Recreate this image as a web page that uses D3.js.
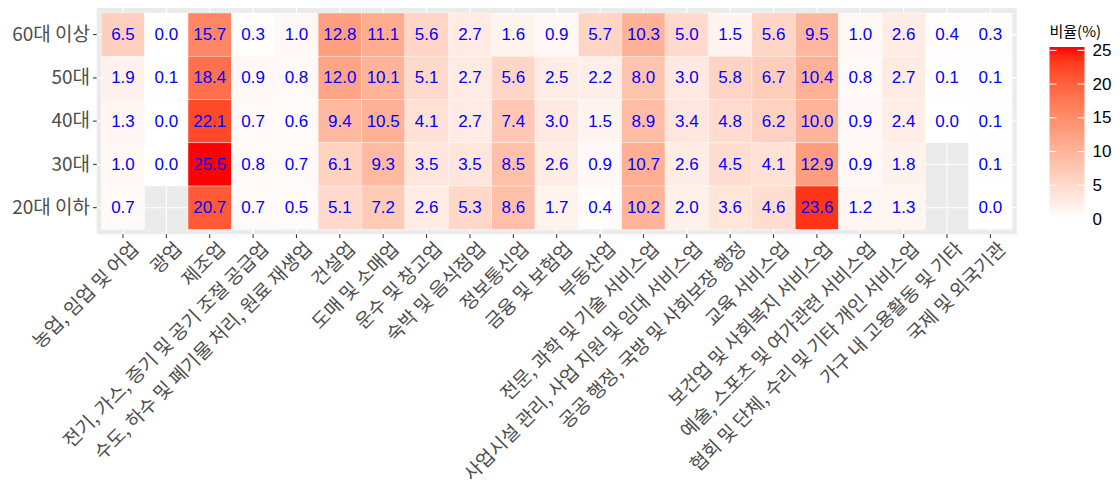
<!DOCTYPE html>
<html>
<head>
<meta charset="utf-8">
<script src="https://cdn.jsdelivr.net/npm/d3@7"></script>
<style>
  html, body { margin: 0; padding: 0; background: #fff; }
  svg { display: block; }
</style>
</head>
<body>
<svg id="chart" width="1120" height="486"></svg>
<script>
// Age groups (rows, top to bottom) and industries (columns, left to right)
const ageGroups = ["60대 이상", "50대", "40대", "30대", "20대 이하"];
const industries = [
  "농업, 임업 및 어업",
  "광업",
  "제조업",
  "전기, 가스, 증기 및 공기 조절 공급업",
  "수도, 하수 및 폐기물 처리, 원료 재생업",
  "건설업",
  "도매 및 소매업",
  "운수 및 창고업",
  "숙박 및 음식점업",
  "정보통신업",
  "금융 및 보험업",
  "부동산업",
  "전문, 과학 및 기술 서비스업",
  "사업시설 관리, 사업 지원 및 임대 서비스업",
  "공공 행정, 국방 및 사회보장 행정",
  "교육 서비스업",
  "보건업 및 사회복지 서비스업",
  "예술, 스포츠 및 여가관련 서비스업",
  "협회 및 단체, 수리 및 기타 개인 서비스업",
  "가구 내 고용활동 및 기타",
  "국제 및 외국기관"
];

// Share of employment (%) by industry, one array per age group; null = no data
const share60plus = [6.5, 0.0, 15.7, 0.3, 1.0, 12.8, 11.1, 5.6, 2.7, 1.6, 0.9, 5.7, 10.3, 5.0, 1.5, 5.6, 9.5, 1.0, 2.6, 0.4, 0.3];
const share50s    = [1.9, 0.1, 18.4, 0.9, 0.8, 12.0, 10.1, 5.1, 2.7, 5.6, 2.5, 2.2, 8.0, 3.0, 5.8, 6.7, 10.4, 0.8, 2.7, 0.1, 0.1];
const share40s    = [1.3, 0.0, 22.1, 0.7, 0.6, 9.4, 10.5, 4.1, 2.7, 7.4, 3.0, 1.5, 8.9, 3.4, 4.8, 6.2, 10.0, 0.9, 2.4, 0.0, 0.1];
const share30s    = [1.0, 0.0, 25.5, 0.8, 0.7, 6.1, 9.3, 3.5, 3.5, 8.5, 2.6, 0.9, 10.7, 2.6, 4.5, 4.1, 12.9, 0.9, 1.8, null, 0.1];
const share20down = [0.7, null, 20.7, 0.7, 0.5, 5.1, 7.2, 2.6, 5.3, 8.6, 1.7, 0.4, 10.2, 2.0, 3.6, 4.6, 23.6, 1.2, 1.3, null, 0.0];

const legendTitle = "비율(%)";
const legendTicks = [0, 5, 10, 15, 20, 25];

const seriesByAge = [share60plus, share50s, share40s, share30s, share20down];

// Long-format cells, skipping missing combinations
const cells = [];
ageGroups.forEach((age, i) => {
  seriesByAge[i].forEach((v, j) => {
    if (v !== null) cells.push({ age, industry: industries[j], value: v });
  });
});

const svg = d3.select("#chart");

const panel = { left: 96.7, right: 1016.7, top: 8, bottom: 234.3 };
const inset = { x: 4.6, y: 5 };

const x = d3.scaleBand()
  .domain(industries)
  .range([panel.left + inset.x, panel.right - inset.x])
  .padding(0);

const y = d3.scaleBand()
  .domain(ageGroups)
  .range([panel.top + inset.y, panel.bottom - inset.y])
  .padding(0);

const maxVal = d3.max(cells, d => d.value);
const color = d3.scaleLinear()
  .domain([0, maxVal])
  .range(["#ffffff", "#ff0000"])
  .interpolate(d3.interpolateLab);

const axisFont = "'Noto Sans CJK KR', 'Noto Sans', sans-serif";
const numFont = "'Liberation Sans', Arial, sans-serif";

// Panel background
svg.append("rect")
  .attr("x", panel.left).attr("y", panel.top)
  .attr("width", panel.right - panel.left)
  .attr("height", panel.bottom - panel.top)
  .attr("fill", "#ebebeb");

// Major grid lines at category centres
const grid = svg.append("g").attr("stroke", "#ffffff").attr("stroke-width", 1.07);
grid.selectAll("line.vx").data(industries).join("line")
  .attr("x1", d => x(d) + x.bandwidth() / 2).attr("x2", d => x(d) + x.bandwidth() / 2)
  .attr("y1", panel.top).attr("y2", panel.bottom);
grid.selectAll("line.hy").data(ageGroups).join("line")
  .attr("y1", d => y(d) + y.bandwidth() / 2).attr("y2", d => y(d) + y.bandwidth() / 2)
  .attr("x1", panel.left).attr("x2", panel.right);

// Tiles
svg.append("g").selectAll("rect").data(cells).join("rect")
  .attr("x", d => x(d.industry))
  .attr("y", d => y(d.age))
  .attr("width", x.bandwidth())
  .attr("height", y.bandwidth())
  .attr("fill", d => color(d.value))
  .attr("stroke", "#ffffff")
  .attr("stroke-opacity", 0.6)
  .attr("stroke-width", 0.6);

// Value labels
svg.append("g").selectAll("text").data(cells).join("text")
  .attr("x", d => x(d.industry) + x.bandwidth() / 2)
  .attr("y", d => y(d.age) + y.bandwidth() / 2)
  .attr("text-anchor", "middle")
  .attr("dominant-baseline", "central")
  .attr("font-family", numFont)
  .attr("font-size", 17)
  .attr("fill", "#0000ff")
  .text(d => d.value.toFixed(1));

// Y axis
const yAxis = svg.append("g")
  .attr("transform", `translate(${panel.left},0)`)
  .call(d3.axisLeft(y).tickSize(3.7).tickPadding(3));
yAxis.select(".domain").remove();
yAxis.selectAll(".tick line").attr("stroke", "#333333").attr("stroke-width", 1.07);
yAxis.selectAll(".tick text")
  .attr("fill", "#4d4d4d")
  .attr("font-family", axisFont)
  .attr("font-size", 19);

// X axis with rotated labels
const xAxis = svg.append("g")
  .attr("transform", `translate(0,${panel.bottom})`)
  .call(d3.axisBottom(x).tickSize(3.7).tickPadding(3));
xAxis.select(".domain").remove();
xAxis.selectAll(".tick line").attr("stroke", "#333333").attr("stroke-width", 1.07);
xAxis.selectAll(".tick text")
  .attr("fill", "#4d4d4d")
  .attr("font-family", axisFont)
  .attr("font-size", 19)
  .attr("text-anchor", "end")
  .attr("dy", "0.75em")
  .attr("transform", "translate(2,1) rotate(-45)");

// Colour bar legend
const bar = { x: 1049.5, width: 35, top: 47, bottom: 219 };
const lg = svg.append("g");
const defs = svg.append("defs");
const grad = defs.append("linearGradient")
  .attr("id", "fillGrad")
  .attr("x1", 0).attr("y1", 1).attr("x2", 0).attr("y2", 0);
d3.range(0, 1.0001, 0.05).forEach(t => {
  grad.append("stop")
    .attr("offset", t)
    .attr("stop-color", color(t * maxVal));
});

const legendScale = d3.scaleLinear().domain([0, maxVal]).range([bar.bottom, bar.top]);

lg.append("text")
  .attr("x", bar.x)
  .attr("y", 37)
  .attr("font-family", axisFont)
  .attr("font-size", 15)
  .attr("fill", "#000")
  .text(legendTitle);

lg.append("rect")
  .attr("x", bar.x).attr("y", bar.top)
  .attr("width", bar.width).attr("height", bar.bottom - bar.top)
  .attr("fill", "url(#fillGrad)");

const tickLen = bar.width / 5;
lg.selectAll("line.l").data(legendTicks).join("line")
  .attr("x1", bar.x).attr("x2", bar.x + tickLen)
  .attr("y1", d => legendScale(d)).attr("y2", d => legendScale(d))
  .attr("stroke", "#fff").attr("stroke-width", 1);
lg.selectAll("line.r").data(legendTicks).join("line")
  .attr("x1", bar.x + bar.width - tickLen).attr("x2", bar.x + bar.width)
  .attr("y1", d => legendScale(d)).attr("y2", d => legendScale(d))
  .attr("stroke", "#fff").attr("stroke-width", 1);

lg.selectAll("text.tl").data(legendTicks).join("text")
  .attr("x", bar.x + bar.width + 8)
  .attr("y", d => legendScale(d))
  .attr("dominant-baseline", "central")
  .attr("font-family", numFont)
  .attr("font-size", 17)
  .attr("fill", "#000")
  .text(d => d);
</script>
</body>
</html>
